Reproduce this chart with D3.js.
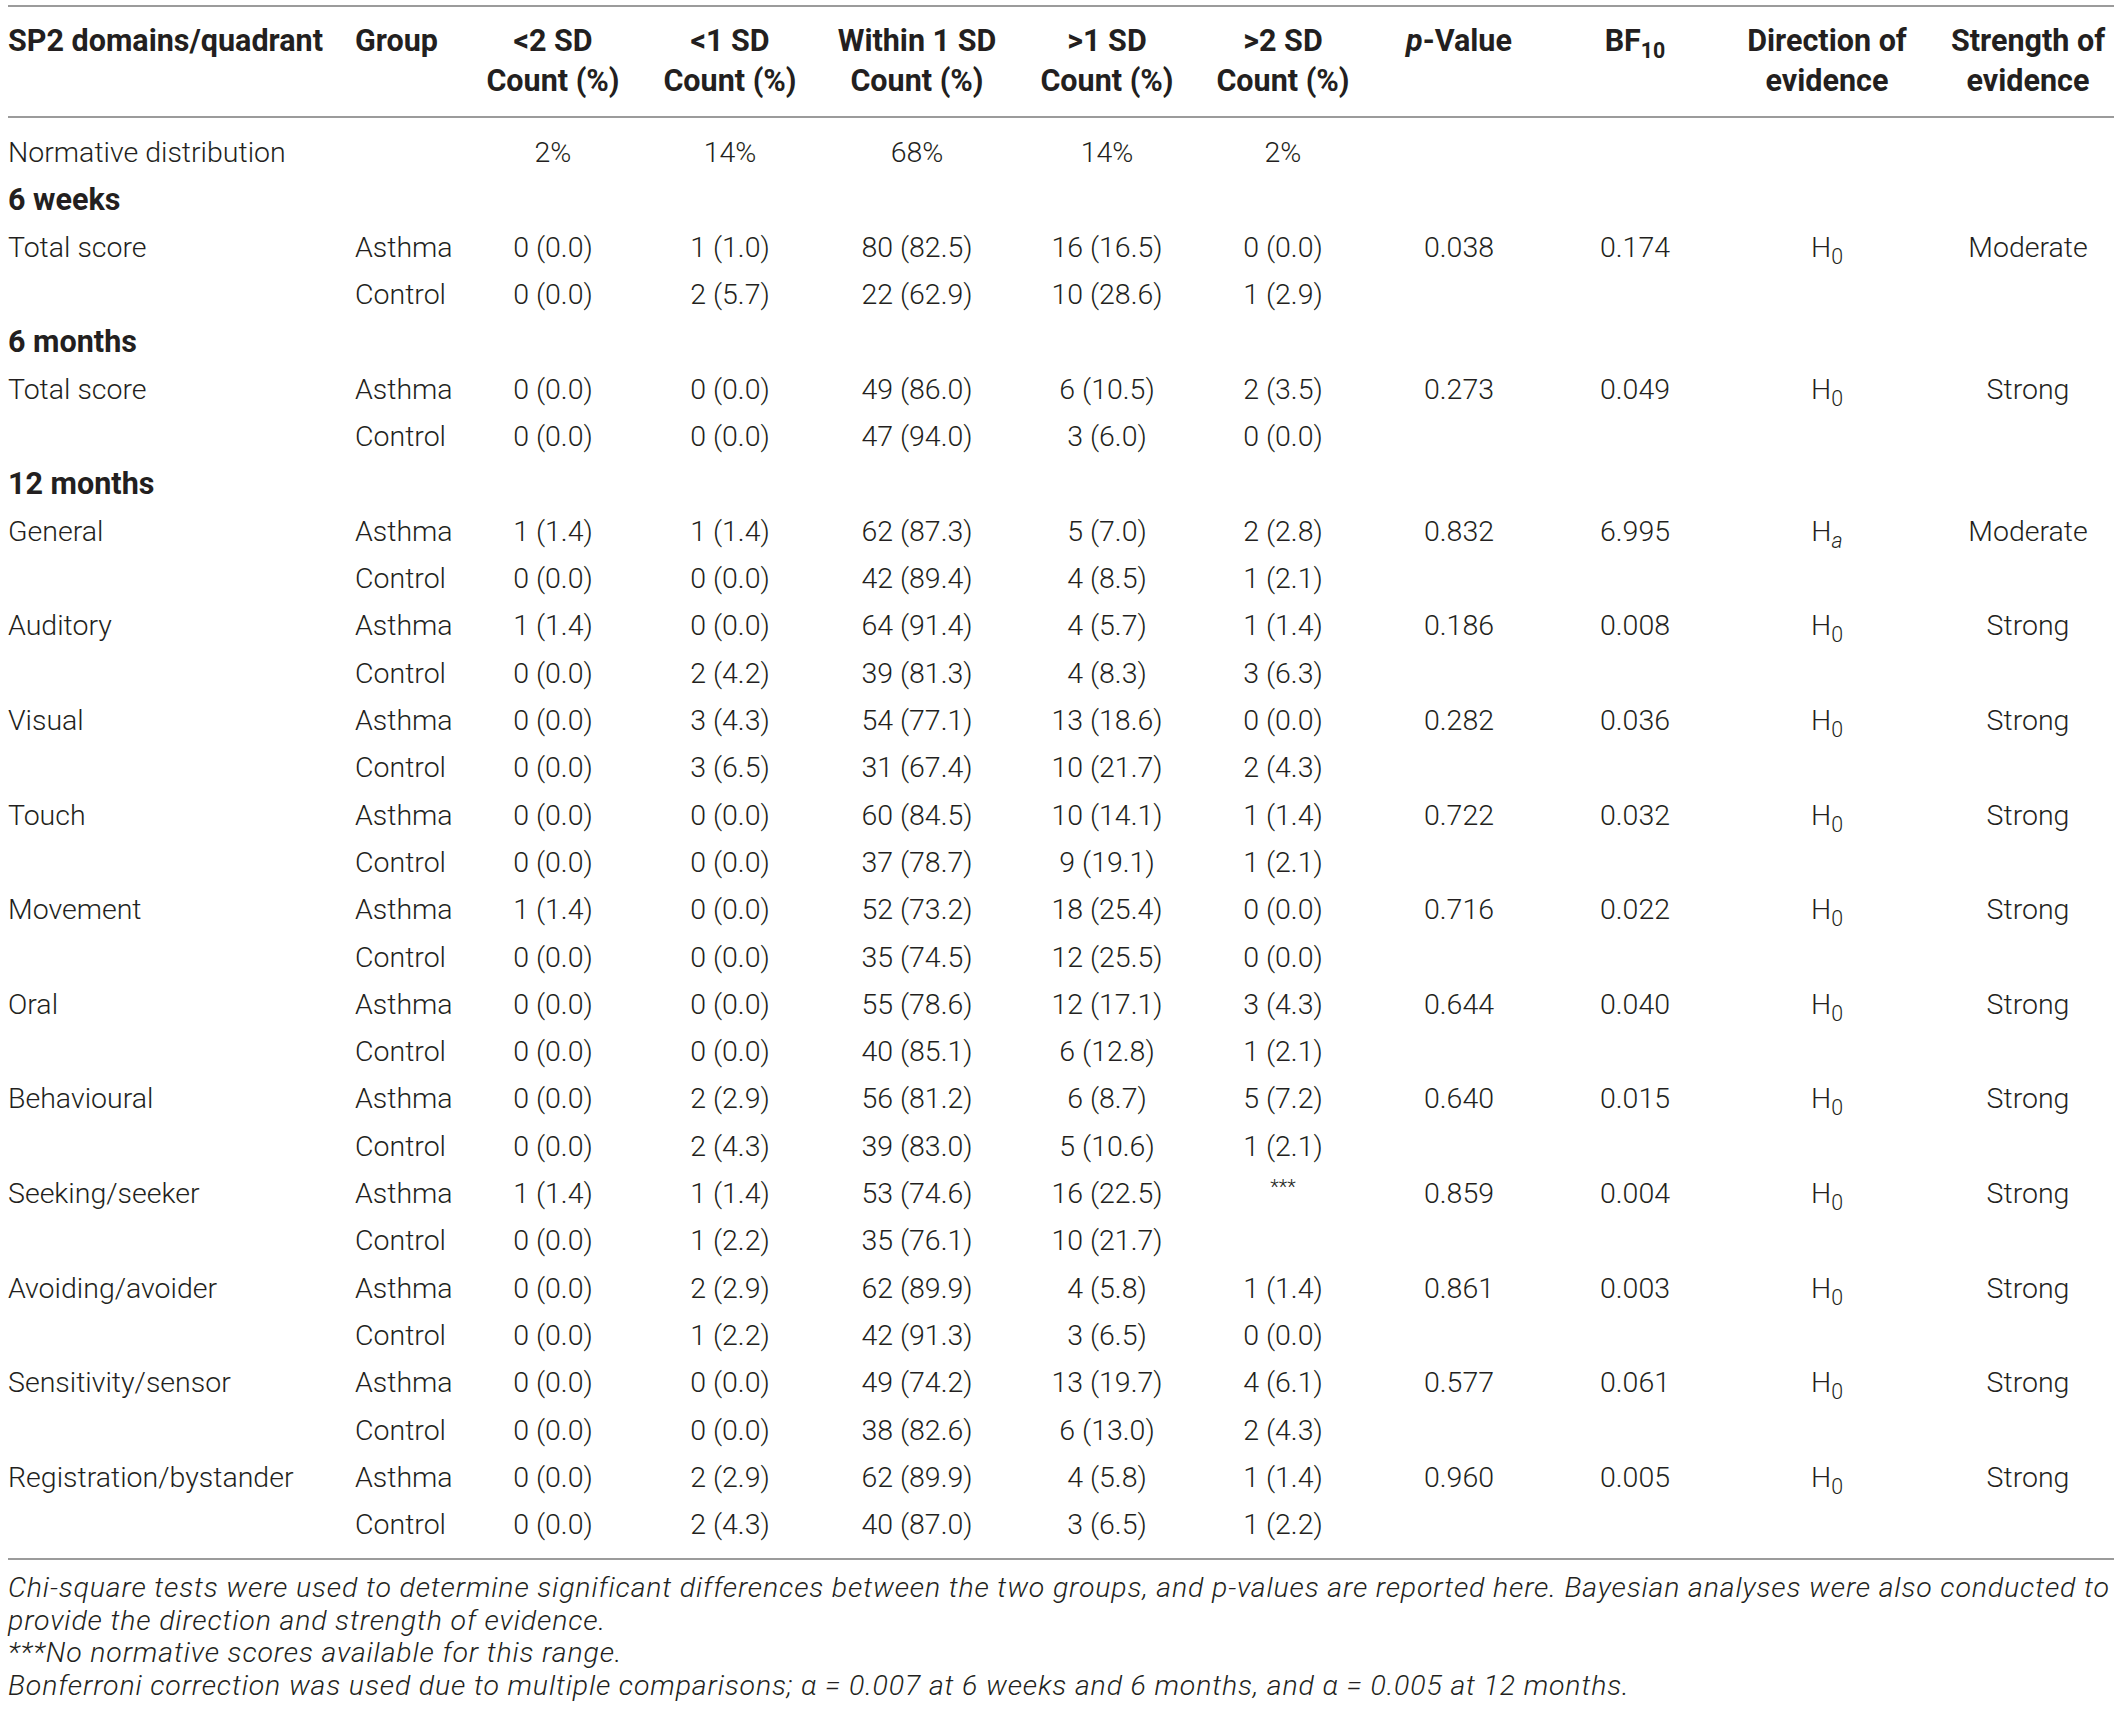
<!DOCTYPE html>
<html>
<head>
<meta charset="utf-8">
<title>SP2 quadrant distribution</title>
<script src="https://d3js.org/d3.v7.min.js"></script>
<style>
  html, body { margin: 0; padding: 0; background: #fff; }
  svg text { font-family: Roboto, "Liberation Sans", sans-serif; fill: #231f20; }
  .light { font-weight: 300; }
  .bold { font-weight: 700; }
  .note { font-weight: 300; font-style: italic; letter-spacing: 0.85px; }
</style>
</head>
<body>
<svg id="chart" width="2121" height="1720"></svg>
<script>
// column headers
const sdBands = ["<2 SD", "<1 SD", "Within 1 SD", ">1 SD", ">2 SD"];
const normative = ["2%", "14%", "68%", "14%", "2%"];
const groups = ["Asthma", "Control"];

// time points and the domains tested at each
const timepoints = ["6 weeks", "6 months", "12 months"];
const domainNames = ["Total score", "Total score", "General", "Auditory", "Visual", "Touch",
  "Movement", "Oral", "Behavioural", "Seeking/seeker", "Avoiding/avoider",
  "Sensitivity/sensor", "Registration/bystander"];
const domainTime = [0, 1, 2, 2, 2, 2, 2, 2, 2, 2, 2, 2, 2];

// counts and percentages per SD band (null = no normative score)
const asthmaCounts = [
  [0, 1, 80, 16, 0], [0, 0, 49, 6, 2], [1, 1, 62, 5, 2], [1, 0, 64, 4, 1],
  [0, 3, 54, 13, 0], [0, 0, 60, 10, 1], [1, 0, 52, 18, 0], [0, 0, 55, 12, 3],
  [0, 2, 56, 6, 5], [1, 1, 53, 16, null], [0, 2, 62, 4, 1], [0, 0, 49, 13, 4],
  [0, 2, 62, 4, 1]];
const asthmaPct = [
  [0.0, 1.0, 82.5, 16.5, 0.0], [0.0, 0.0, 86.0, 10.5, 3.5], [1.4, 1.4, 87.3, 7.0, 2.8],
  [1.4, 0.0, 91.4, 5.7, 1.4], [0.0, 4.3, 77.1, 18.6, 0.0], [0.0, 0.0, 84.5, 14.1, 1.4],
  [1.4, 0.0, 73.2, 25.4, 0.0], [0.0, 0.0, 78.6, 17.1, 4.3], [0.0, 2.9, 81.2, 8.7, 7.2],
  [1.4, 1.4, 74.6, 22.5, null], [0.0, 2.9, 89.9, 5.8, 1.4], [0.0, 0.0, 74.2, 19.7, 6.1],
  [0.0, 2.9, 89.9, 5.8, 1.4]];
const controlCounts = [
  [0, 2, 22, 10, 1], [0, 0, 47, 3, 0], [0, 0, 42, 4, 1], [0, 2, 39, 4, 3],
  [0, 3, 31, 10, 2], [0, 0, 37, 9, 1], [0, 0, 35, 12, 0], [0, 0, 40, 6, 1],
  [0, 2, 39, 5, 1], [0, 1, 35, 10, null], [0, 1, 42, 3, 0], [0, 0, 38, 6, 2],
  [0, 2, 40, 3, 1]];
const controlPct = [
  [0.0, 5.7, 62.9, 28.6, 2.9], [0.0, 0.0, 94.0, 6.0, 0.0], [0.0, 0.0, 89.4, 8.5, 2.1],
  [0.0, 4.2, 81.3, 8.3, 6.3], [0.0, 6.5, 67.4, 21.7, 4.3], [0.0, 0.0, 78.7, 19.1, 2.1],
  [0.0, 0.0, 74.5, 25.5, 0.0], [0.0, 0.0, 85.1, 12.8, 2.1], [0.0, 4.3, 83.0, 10.6, 2.1],
  [0.0, 2.2, 76.1, 21.7, null], [0.0, 2.2, 91.3, 6.5, 0.0], [0.0, 0.0, 82.6, 13.0, 4.3],
  [0.0, 4.3, 87.0, 6.5, 2.2]];

const pValues = [0.038, 0.273, 0.832, 0.186, 0.282, 0.722, 0.716, 0.644, 0.640, 0.859, 0.861, 0.577, 0.960];
const bf10 = [0.174, 0.049, 6.995, 0.008, 0.036, 0.032, 0.022, 0.040, 0.015, 0.004, 0.003, 0.061, 0.005];
const direction = ["0", "0", "a", "0", "0", "0", "0", "0", "0", "0", "0", "0", "0"];
const strength = ["Moderate", "Strong", "Moderate", "Strong", "Strong", "Strong", "Strong",
  "Strong", "Strong", "Strong", "Strong", "Strong", "Strong"];

const notes = [
  "Chi-square tests were used to determine significant differences between the two groups, and p-values are reported here. Bayesian analyses were also conducted to",
  "provide the direction and strength of evidence.",
  "***No normative scores available for this range.",
  "Bonferroni correction was used due to multiple comparisons; \u03b1 = 0.007 at 6 weeks and 6 months, and \u03b1 = 0.005 at 12 months."
];

// ---- layout ----
const svg = d3.select("#chart");
const fs = 28.5;   // body text
const hs = 30.5;   // header text
const ns = 28.5;   // footnotes
const colKeys = ["group", "b0", "b1", "b2", "b3", "b4", "p", "bf", "dir", "str"];
const x = d3.scaleOrdinal()
  .domain(colKeys)
  .range([355, 553, 730, 917, 1107, 1283, 1459, 1635, 1827, 2028]);
const leftX = 8;

// build the list of body rows
const rows = [{ kind: "norm" }];
domainNames.forEach((name, i) => {
  if (i === 0 || domainTime[i] !== domainTime[i - 1]) rows.push({ kind: "time", label: timepoints[domainTime[i]] });
  rows.push({ kind: "data", d: i, g: 0 });
  rows.push({ kind: "data", d: i, g: 1 });
});

const y = d3.scaleLinear().domain([0, rows.length - 1]).range([152, 1524]);
const fmt = d3.format(".1f");
const pf = d3.format(".3f");

function txt(xp, yp, s, cls, anchor, size) {
  return svg.append("text").attr("x", xp).attr("y", yp).attr("dy", "0.36em")
    .attr("class", cls).attr("font-size", size || fs).attr("text-anchor", anchor || "start").text(s);
}

// rules
const rule = (yy) => svg.append("line").attr("x1", 8).attr("x2", 2114)
  .attr("y1", yy).attr("y2", yy).attr("stroke", "#9b9b9b").attr("stroke-width", 2);
rule(6); rule(117); rule(1559);

// header
txt(leftX, 40, "SP2 domains/quadrant", "bold", "start", hs);
txt(x("group"), 40, "Group", "bold", "start", hs);
sdBands.forEach((b, j) => {
  txt(x("b" + j), 40, b, "bold", "middle", hs);
  txt(x("b" + j), 80, "Count (%)", "bold", "middle", hs);
});
const ph = txt(x("p"), 40, "", "bold", "middle", hs);
ph.append("tspan").attr("font-style", "italic").text("p");
ph.append("tspan").text("-Value");
const bh = txt(x("bf"), 40, "BF", "bold", "middle", hs);
bh.append("tspan").attr("font-size", hs * 0.7).attr("dy", 7).text("10");
txt(x("dir"), 40, "Direction of", "bold", "middle", hs);
txt(x("dir"), 80, "evidence", "bold", "middle", hs);
txt(x("str"), 40, "Strength of", "bold", "middle", hs);
txt(x("str"), 80, "evidence", "bold", "middle", hs);

// body
rows.forEach((r, i) => {
  const yy = y(i);
  if (r.kind === "norm") {
    txt(leftX, yy, "Normative distribution", "light");
    normative.forEach((v, j) => txt(x("b" + j), yy, v, "light", "middle"));
  } else if (r.kind === "time") {
    txt(leftX, yy, r.label, "bold", "start", hs);
  } else {
    const d = r.d;
    const counts = r.g === 0 ? asthmaCounts[d] : controlCounts[d];
    const pct = r.g === 0 ? asthmaPct[d] : controlPct[d];
    if (r.g === 0) txt(leftX, yy, domainNames[d], "light");
    txt(x("group"), yy, groups[r.g], "light");
    counts.forEach((c, j) => {
      if (c === null) {
        if (r.g === 0) txt(x("b" + j), yy - 6, "***", "light", "middle", 20);
      } else {
        txt(x("b" + j), yy, c + " (" + fmt(pct[j]) + ")", "light", "middle");
      }
    });
    if (r.g === 0) {
      txt(x("p"), yy, pf(pValues[d]), "light", "middle");
      txt(x("bf"), yy, pf(bf10[d]), "light", "middle");
      const h = txt(x("dir"), yy, "H", "light", "middle");
      h.append("tspan").attr("font-size", fs * 0.75).attr("dy", 7)
        .attr("font-style", direction[d] === "a" ? "italic" : "normal").text(direction[d]);
      txt(x("str"), yy, strength[d], "light", "middle");
    }
  }
});

// footnotes
notes.forEach((n, i) => {
  txt(leftX, 1587 + i * 32.5, n, "note", "start", ns);
});
</script>
</body>
</html>
